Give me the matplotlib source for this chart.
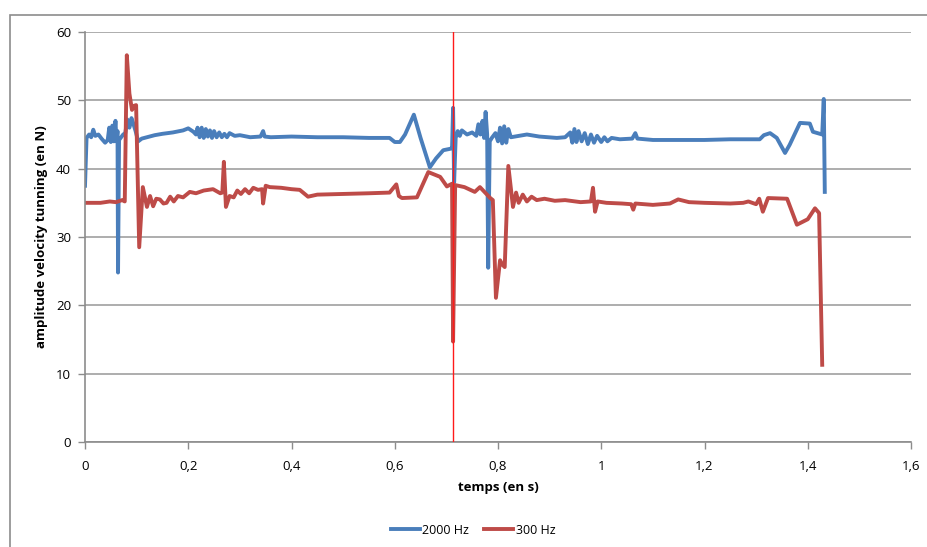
import matplotlib
matplotlib.use("Agg")
import matplotlib.pyplot as plt
from matplotlib.patches import Rectangle

# 2000 Hz series
t_2000 = [0.000, 0.003, 0.008, 0.012, 0.016, 0.020, 0.026, 0.032, 0.039, 0.044,
          0.047, 0.050, 0.053, 0.056, 0.059, 0.061, 0.063, 0.064, 0.066, 0.070,
          0.074, 0.078, 0.082, 0.086, 0.090, 0.094, 0.098, 0.103, 0.110, 0.120,
          0.135, 0.150, 0.170, 0.190, 0.200, 0.210, 0.215, 0.218, 0.222, 0.226,
          0.230, 0.234, 0.238, 0.242, 0.246, 0.250, 0.255, 0.260, 0.265, 0.270,
          0.275, 0.280, 0.290, 0.300, 0.320, 0.340, 0.345, 0.348, 0.360, 0.400,
          0.450, 0.500, 0.550, 0.590, 0.600, 0.610, 0.620, 0.637, 0.650, 0.668,
          0.680, 0.694, 0.707, 0.711, 0.713, 0.715, 0.718, 0.722, 0.726, 0.730,
          0.740, 0.750, 0.758, 0.762, 0.766, 0.770, 0.773, 0.776, 0.779, 0.781,
          0.784, 0.788, 0.795, 0.800, 0.804, 0.808, 0.812, 0.816, 0.820, 0.825,
          0.840, 0.856, 0.880, 0.914, 0.930, 0.940, 0.944, 0.948, 0.952, 0.956,
          0.962, 0.968, 0.974, 0.980, 0.986, 0.992, 1.000, 1.006, 1.012, 1.020,
          1.036, 1.060, 1.066, 1.070, 1.100, 1.150, 1.200, 1.250, 1.307, 1.315,
          1.327, 1.340, 1.356, 1.365, 1.385, 1.404, 1.410, 1.428, 1.431, 1.433]
v_2000 = [37.5, 44.5, 45.0, 44.6, 45.7, 44.8, 45.0, 44.4, 43.8, 44.2,
          46.0, 43.9, 46.3, 44.0, 47.0, 44.0, 45.5, 24.8, 44.2, 44.6,
          45.0, 45.2, 47.2, 46.0, 47.4, 46.5, 45.5, 44.0, 44.4, 44.6,
          44.9, 45.1, 45.3, 45.6, 45.9, 45.4, 45.0, 46.0, 44.6, 46.0,
          44.5, 45.8, 44.7, 45.6, 44.5, 45.5, 44.6, 45.3, 44.6, 45.1,
          44.6, 45.2, 44.8, 44.9, 44.6, 44.7, 45.5, 44.7, 44.6, 44.7,
          44.6, 44.6, 44.5, 44.5, 43.9, 43.9, 45.0, 47.9, 44.5, 40.2,
          41.5, 42.7, 42.9, 43.0, 48.9, 38.0, 44.5, 45.5, 44.8, 45.6,
          45.0, 45.3, 44.8, 46.5, 45.0, 47.0, 44.5, 48.3, 45.0, 25.5,
          44.0, 44.5, 45.2, 44.0, 46.0, 43.7, 46.2, 43.8, 45.8, 44.6,
          44.8, 45.0, 44.7, 44.5, 44.6, 45.3, 43.8, 45.8, 43.9, 45.5,
          44.0, 45.2, 43.6, 45.0, 43.8, 44.8, 43.9, 44.6, 44.0, 44.5,
          44.3, 44.4, 45.2, 44.4, 44.2, 44.2, 44.2, 44.3, 44.3, 44.9,
          45.2, 44.5, 42.3, 43.5, 46.7, 46.6, 45.4, 45.0, 50.2, 36.6]

# 300 Hz series
t_300 = [0.000, 0.030, 0.048, 0.060, 0.072, 0.077, 0.081, 0.086, 0.091, 0.095,
         0.099, 0.105, 0.112, 0.120, 0.126, 0.132, 0.138, 0.145, 0.152, 0.158,
         0.165, 0.172, 0.180, 0.190, 0.203, 0.215, 0.230, 0.248, 0.262, 0.266,
         0.269, 0.273, 0.280, 0.288, 0.295, 0.302, 0.310, 0.318, 0.326, 0.335,
         0.343, 0.345, 0.350, 0.358, 0.380, 0.400, 0.416, 0.432, 0.450, 0.500,
         0.550, 0.590, 0.603, 0.608, 0.614, 0.643, 0.665, 0.688, 0.701, 0.711,
         0.713, 0.717, 0.735, 0.755, 0.765, 0.785, 0.790, 0.796, 0.804, 0.808,
         0.813, 0.820, 0.829, 0.835, 0.840, 0.848, 0.856, 0.865, 0.875, 0.890,
         0.910, 0.930, 0.960, 0.980, 0.984, 0.988, 0.993, 1.010, 1.040, 1.058,
         1.062, 1.066, 1.100, 1.133, 1.149, 1.170, 1.200, 1.250, 1.275, 1.285,
         1.300, 1.306, 1.313, 1.323, 1.360, 1.379, 1.400, 1.414, 1.422, 1.428]
v_300 = [35.0, 35.0, 35.2, 35.1, 35.4, 35.2, 56.6, 51.0, 48.6, 49.2,
         49.3, 28.5, 37.3, 34.4, 36.0, 34.5, 35.6, 35.5, 34.9, 35.0,
         35.9, 35.2, 36.0, 35.8, 36.6, 36.4, 36.8, 37.0, 36.4, 36.5,
         41.0, 34.4, 36.0, 35.8, 36.8, 36.3, 37.0, 36.4, 37.2, 36.9,
         37.0, 34.9, 37.5, 37.3, 37.2, 37.0, 36.9, 35.9, 36.2, 36.3,
         36.4, 36.5, 37.7, 36.0, 35.7, 35.8, 39.5, 38.8, 37.4, 37.8,
         14.7, 37.6, 37.3, 36.6, 37.3, 35.7, 35.4, 21.1, 26.6, 26.0,
         25.6, 40.4, 34.4, 36.5, 35.0, 36.2, 35.2, 35.9, 35.4, 35.6,
         35.3, 35.4, 35.1, 35.2, 37.2, 33.7, 35.2, 35.0, 34.9, 34.8,
         34.0, 34.9, 34.7, 34.9, 35.5, 35.1, 35.0, 34.9, 35.0, 35.2,
         34.8, 35.6, 33.7, 35.7, 35.6, 31.8, 32.6, 34.2, 33.5, 11.3]

marker_t = 0.713

plt.rcParams['font.family'] = ['Open Sans', 'DejaVu Sans']

fig = plt.figure(figsize=(9.27, 5.47), dpi=100)
# chart area border (cropped at right and bottom)
fig.patches.append(Rectangle((10 / 927, -0.1), 1.2, 1 - 15 / 547 + 0.1,
                             transform=fig.transFigure, fill=False,
                             edgecolor='#8c8c8c', linewidth=1.2))

ax = fig.add_axes([85 / 927, 1 - 442 / 547, (911 - 85) / 927, (442 - 32) / 547])
ax.plot(t_2000, v_2000, color='#4a7ebb', linewidth=2.8, label='2000 Hz',
        solid_joinstyle='round')
ax.plot(t_300, v_300, color='#be4b48', linewidth=2.8, label='300 Hz',
        solid_joinstyle='round')
ax.axvline(marker_t, color='#ff1a1a', linewidth=1.0, zorder=5)

ax.set_xlim(0, 1.6)
ax.set_ylim(0, 60)
ax.set_xticks([0, 0.2, 0.4, 0.6, 0.8, 1.0, 1.2, 1.4, 1.6])
ax.set_xticklabels(['0', '0,2', '0,4', '0,6', '0,8', '1', '1,2', '1,4', '1,6'])
ax.set_yticks(range(0, 61, 10))
ax.yaxis.grid(True, color='#a0a0a0', linewidth=1.2)
ax.set_axisbelow(True)
for s in ['top', 'right']:
    ax.spines[s].set_visible(False)
for s in ['left', 'bottom']:
    ax.spines[s].set_color('#8c8c8c')
    ax.spines[s].set_linewidth(1.2)
ax.tick_params(colors='#8c8c8c', labelcolor='black', labelsize=9.5, length=5,
               width=1)
ax.tick_params(axis='x', pad=8)
ax.tick_params(axis='y', pad=5)

ax.set_xlabel('temps (en s)', fontsize=9.5, fontweight='bold', labelpad=6)
ax.set_ylabel('amplitude velocity tunning (en N)', fontsize=9.5,
              fontweight='bold', labelpad=6)

ax.legend(loc='center', bbox_to_anchor=(0.47, -0.215), ncol=2, frameon=False,
          fontsize=9, handlelength=2.3, handletextpad=0.2, columnspacing=1.2)

fig.savefig('out.png', dpi=100)
